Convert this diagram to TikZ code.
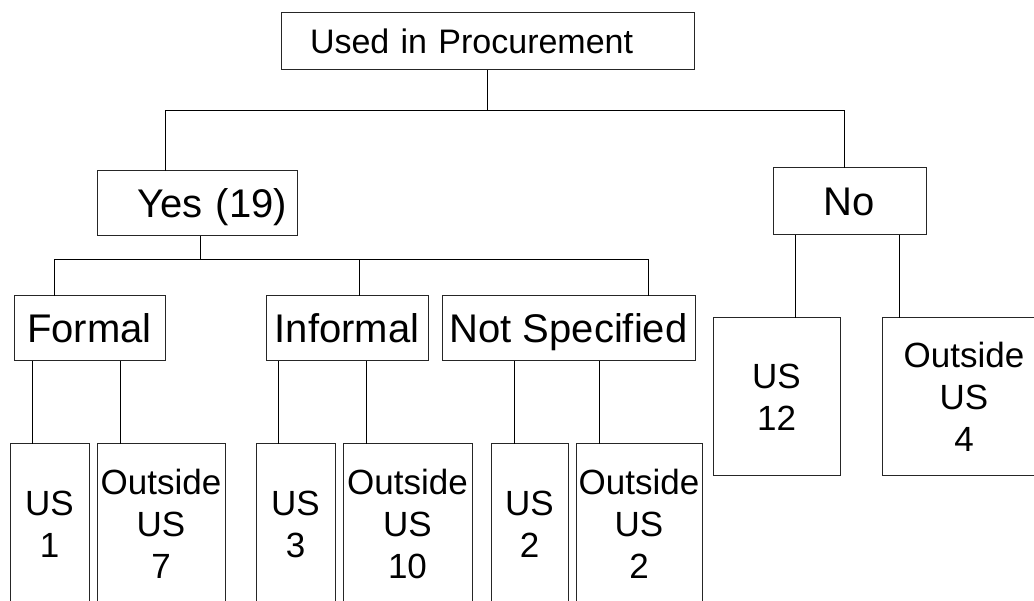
\documentclass[tikz,border=0pt]{standalone}
\usepackage{fontspec}
\setmainfont{Liberation Sans}
\tikzset{
  box/.style={draw=black!85,line width=1pt,rectangle,inner sep=0pt,align=center},
  topfont/.style={font=\fontsize{34}{40}\selectfont,text height=24pt,text depth=0pt},
  midfont/.style={font=\fontsize{40}{48}\selectfont,text height=29pt,text depth=0pt},
  leaffont/.style={font=\fontsize{35}{42}\selectfont},
  link/.style={line width=1pt,black}
}
\begin{document}
\begin{tikzpicture}[x=1pt,y=-1pt]
\useasboundingbox (0,0) rectangle (1034,601);
\clip (0,0) rectangle (1034,601);
% top level
\node[box,topfont,minimum height=57pt,inner xsep=29pt,text width=355pt,align=left] (proc) at (487.5,41.5) {Used in Procurement};
\node[box,midfont,minimum height=65pt,inner xsep=10pt,text width=180pt,align=right] (yes) at (197,203.5) {Yes (19)};
\node[box,midfont,minimum width=153pt,minimum height=67pt] (no) at (849.5,201.5) {No};
% kinds of use
\node[box,midfont,minimum width=151pt,minimum height=65pt] (formal) at (89.5,328.5) {Formal};
\node[box,midfont,minimum width=162pt,minimum height=65pt] (informal) at (347,328.5) {Informal};
\node[box,midfont,minimum width=253pt,minimum height=65pt] (notspec) at (568.5,328.5) {Not Specified};
% counts
\node[box,leaffont,minimum width=79pt,minimum height=160pt] (us1) at (49.5,524) {US\\1};
\node[box,leaffont,minimum width=128pt,minimum height=160pt] (out7) at (161,524) {Outside\\US\\7};
\node[box,leaffont,minimum width=79pt,minimum height=160pt] (us3) at (295.5,524) {US\\3};
\node[box,leaffont,minimum width=129pt,minimum height=160pt] (out10) at (407.5,524) {Outside\\US\\10};
\node[box,leaffont,minimum width=77pt,minimum height=160pt] (us2) at (529.5,524) {US\\2};
\node[box,leaffont,minimum width=126pt,minimum height=160pt] (out2) at (639,524) {Outside\\US\\2};
\node[box,leaffont,minimum width=127pt,minimum height=158pt] (us12) at (776.5,397) {US\\12};
\node[box,leaffont,minimum width=164pt,minimum height=158pt] (out4) at (964,397) {Outside\\US\\4};
% drop points
\coordinate (yesin) at (165,171);
\coordinate (noin) at (844,168);
\coordinate (formin) at (54,296);
\coordinate (infin) at (359,296);
\coordinate (nsin) at (648,296);
\coordinate (d1) at (32,444);
\coordinate (d2) at (120,444);
\coordinate (d3) at (278,444);
\coordinate (d4) at (366,444);
\coordinate (d5) at (514,444);
\coordinate (d6) at (599,444);
\coordinate (d7) at (795,318);
\coordinate (d8) at (899,318);
% connectors
\draw[link] (proc.south) -- ++(0,40) -| (yesin);
\draw[link] (proc.south) -- ++(0,40) -| (noin);
\foreach \c in {formin,infin,nsin}
  \draw[link] ([xshift=3pt]yes.south) -- ++(0,23) -| (\c);
\foreach \c/\p in {d1/formal,d2/formal,d3/informal,d4/informal,d5/notspec,d6/notspec,d7/no,d8/no}
  \draw[link] (\c) -- (\c |- \p.south);
\end{tikzpicture}
\end{document}
